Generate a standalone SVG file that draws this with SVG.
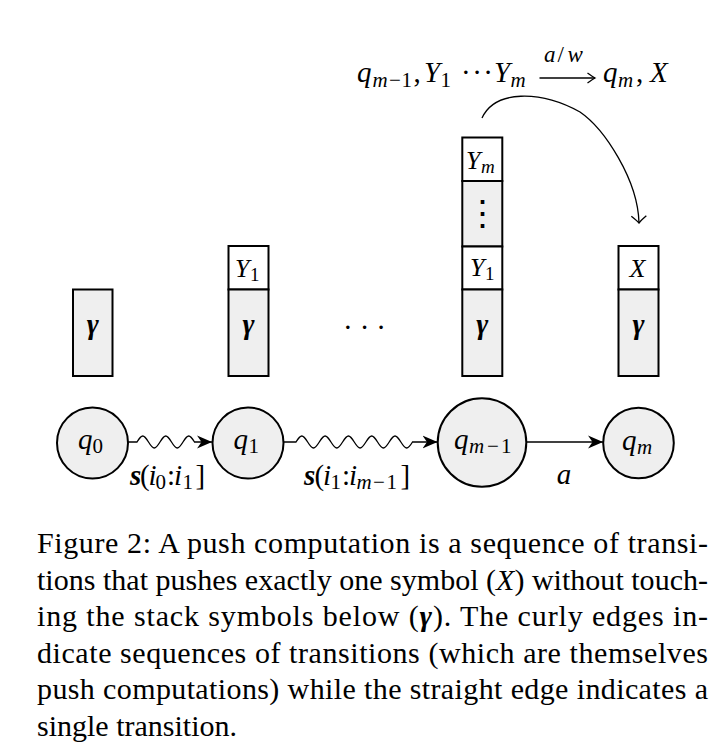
<svg xmlns="http://www.w3.org/2000/svg" width="720" height="753" viewBox="0 0 720 753">
<style>
.m{font-family:"Liberation Serif","Times New Roman",serif;font-style:italic;font-size:29px;fill:#000}
.k{font-size:26px}
.r{font-style:normal}
.s{font-size:21px}
.s2{font-size:19px}
.b{font-weight:bold}
.box{stroke:#000;stroke-width:2}
.g{fill:#efefef}
.w{fill:#fff}
.st{fill:#efefef;stroke:#000;stroke-width:2}
.e{fill:none;stroke:#000;stroke-width:1.3}
.cap{font-family:"Liberation Serif","Times New Roman",serif;font-size:30px;fill:#000}
</style>
<defs>
<marker id="stealth" viewBox="-15 -7 16 14" markerWidth="16" markerHeight="14" refX="0" refY="0" orient="auto" markerUnits="userSpaceOnUse"><path d="M0,0 L-15,-6.5 L-10.5,0 L-15,6.5 Z" fill="#000"/></marker>
<marker id="to" viewBox="-9 -9 11 18" markerWidth="11" markerHeight="18" refX="0" refY="0" orient="auto" markerUnits="userSpaceOnUse"><path d="M-7,-7.5 Q-2,-1.5 0,0 Q-2,1.5 -7,7.5" fill="none" stroke="#000" stroke-width="1.3"/></marker>
<marker id="to2" viewBox="-9 -7 11 14" markerWidth="11" markerHeight="14" refX="0" refY="0" orient="auto" markerUnits="userSpaceOnUse"><path d="M-7.5,-5 Q-2,-1 0,0 Q-2,1 -7.5,5" fill="none" stroke="#000" stroke-width="1.3"/></marker>
</defs>

<g id="rule-label">
<text class="m" y="82"><tspan x="357">q</tspan><tspan class="s" x="372.5" y="86.5">m</tspan><tspan class="s r" x="389" y="86.5">−</tspan><tspan class="s r" x="401.5" y="86.5">1</tspan><tspan class="r" x="413.5" y="82">,</tspan><tspan x="424">Y</tspan><tspan class="s r" x="440.5" y="86.5">1</tspan></text>
<text class="m r" x="461" y="82" letter-spacing="1.5">···</text>
<text class="m" y="82"><tspan x="494">Y</tspan><tspan class="s" x="510.5" y="86.5">m</tspan></text>
<text class="m" y="62" style="font-size:23px"><tspan x="544">a</tspan><tspan class="r" x="557.5">/</tspan><tspan x="567.5">w</tspan></text>
<text class="m" y="82"><tspan x="603">q</tspan><tspan class="s" x="618" y="86.5">m</tspan><tspan class="r" x="636" y="82">,</tspan><tspan x="650">X</tspan></text>
</g>

<g id="stack0">
<rect class="box g" x="73" y="289.5" width="39.5" height="86.5"/>
<text class="m b" x="92.8" y="334" text-anchor="middle">γ</text>
</g>

<g id="stack1">
<rect class="box w" x="228.5" y="246" width="40" height="43.5"/>
<rect class="box g" x="228.5" y="289.5" width="40" height="86.5"/>
<text class="m k" y="277"><tspan x="235">Y</tspan><tspan class="s2 r" x="250" y="281">1</tspan></text>
<text class="m b" x="248.5" y="334" text-anchor="middle">γ</text>
</g>

<g id="stack2">
<rect class="box w" x="462.3" y="137.5" width="40" height="43.5"/>
<rect class="box g" x="462.3" y="181" width="40" height="65.5"/>
<rect class="box w" x="462.3" y="246.5" width="40" height="43"/>
<rect class="box g" x="462.3" y="289.5" width="40" height="86.5"/>
<text class="m k" y="168.5"><tspan x="466">Y</tspan><tspan class="s2" x="481" y="172.5">m</tspan></text>
<text x="482.3" y="224.5" text-anchor="middle" style="font-family:'DejaVu Serif',serif;font-size:35px">⋮</text>
<text class="m k" y="275.5"><tspan x="470">Y</tspan><tspan class="s2 r" x="485" y="279.5">1</tspan></text>
<text class="m b" x="482.3" y="334" text-anchor="middle">γ</text>
</g>

<g id="stack3">
<rect class="box w" x="618.5" y="246" width="40" height="43.5"/>
<rect class="box g" x="618.5" y="289.5" width="40" height="86.5"/>
<text class="m k" x="637.5" y="277" text-anchor="middle">X</text>
<text class="m b" x="638.5" y="334" text-anchor="middle">γ</text>
</g>

<g id="hdots">
<text class="m r" x="368" y="337" text-anchor="middle" letter-spacing="7">···</text>
</g>

<g id="q0">
<circle class="st" cx="92.5" cy="443" r="35.5"/>
<text class="m" y="449"><tspan x="78">q</tspan><tspan class="s r" x="92.5" y="452.5">0</tspan></text>
</g>
<g id="q1">
<circle class="st" cx="248" cy="443" r="35.5"/>
<text class="m" y="449"><tspan x="233.5">q</tspan><tspan class="s r" x="248.5" y="452.5">1</tspan></text>
</g>
<g id="qm1">
<circle class="st" cx="482" cy="442.5" r="44.3"/>
<text class="m" y="449"><tspan x="454">q</tspan><tspan class="s" x="469" y="452.5">m</tspan><tspan class="s r" x="487" y="452.5">−</tspan><tspan class="s r" x="501" y="452.5">1</tspan></text>
</g>
<g id="qm">
<circle class="st" cx="638.5" cy="443" r="35.3"/>
<text class="m" y="450"><tspan x="622">q</tspan><tspan class="s" x="637" y="453.5">m</tspan></text>
</g>

<g id="connectors">
<path class="e" marker-end="url(#stealth)" d="M128,442 L137,442 C141.88,434 143.62,434 148.5,442 S155.12,450 160,442 S166.62,434 171.5,442 S178.12,450 183,442 S189.62,434 194.5,442 L212,442"/>
<path class="e" marker-end="url(#stealth)" d="M283.5,442 L296,442 C300.94,434 302.71,434 307.65,442 S314.36,450 319.3,442 S326.01,434 330.95,442 S337.66,450 342.6,442 S349.31,434 354.25,442 S360.96,450 365.9,442 S372.61,434 377.55,442 S384.26,450 389.2,442 S395.91,434 400.85,442 S407.56,450 412.5,442 L437.5,442"/>
<path class="e" marker-end="url(#stealth)" d="M526.5,442 L603,442"/>
<path class="e" marker-end="url(#to)" d="M482,118 C495,90 540,90 580,112 C604.5,128.8 638,180 639,223"/>
<path class="e" marker-end="url(#to2)" d="M539.5,78 L595,78"/>
<text class="m" y="485"><tspan class="b" x="130">s</tspan><tspan class="r" x="140">(</tspan><tspan x="148.5">i</tspan><tspan class="s r" x="155.5" y="488.5">0</tspan><tspan class="r" x="167" y="485">:</tspan><tspan x="174">i</tspan><tspan class="s r" x="182.5" y="488.5">1</tspan><tspan class="r" x="195.5" y="485">]</tspan></text>
<text class="m" y="485"><tspan class="b" x="304">s</tspan><tspan class="r" x="314.5">(</tspan><tspan x="323">i</tspan><tspan class="s r" x="330.5" y="488.5">1</tspan><tspan class="r" x="342" y="485">:</tspan><tspan x="349">i</tspan><tspan class="s" x="356.5" y="488.5">m</tspan><tspan class="s r" x="373">−</tspan><tspan class="s r" x="386.5">1</tspan><tspan class="r" x="400.5" y="485">]</tspan></text>
<text class="m" x="556.7" y="483.5">a</text>
</g>

<g id="caption">
<text class="cap" x="37" y="553" textLength="671" lengthAdjust="spacing">Figure 2: A push computation is a sequence of transi-</text>
<text class="cap" x="37" y="589.5" textLength="671" lengthAdjust="spacing">tions that pushes exactly one symbol (<tspan font-style="italic">X</tspan>) without touch-</text>
<text class="cap" x="37" y="626" textLength="671" lengthAdjust="spacing">ing the stack symbols below (<tspan font-style="italic" font-weight="bold">γ</tspan>). The curly edges in-</text>
<text class="cap" x="37" y="662.5" textLength="671" lengthAdjust="spacing">dicate sequences of transitions (which are themselves</text>
<text class="cap" x="37" y="699" textLength="671" lengthAdjust="spacing">push computations) while the straight edge indicates a</text>
<text class="cap" x="37" y="735.5">single transition.</text>
</g>
</svg>
